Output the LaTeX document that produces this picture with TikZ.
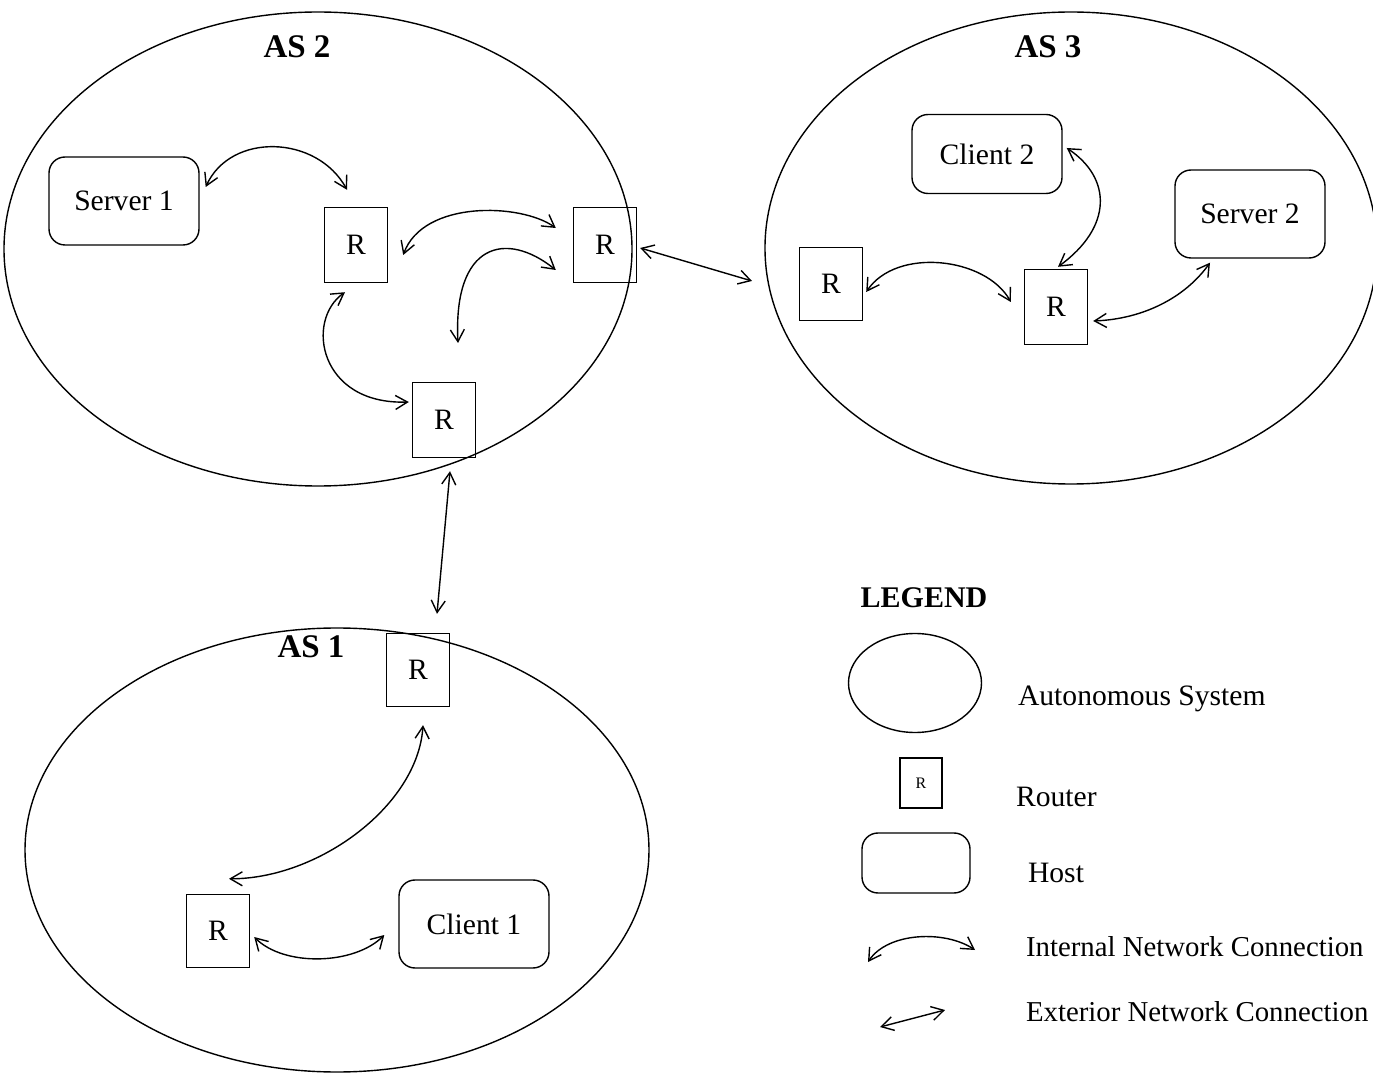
\documentclass[tikz,border=0pt]{standalone}
\usepackage{fontspec}
\setmainfont{Liberation Serif}
\usetikzlibrary{arrows.meta,shapes.geometric}
\begin{document}
\begin{tikzpicture}[x=0.5pt,y=-0.5pt,
  every node/.style={font=\fontsize{14.8}{17}\selectfont},
  router/.style={draw,line width=0.7pt,minimum width=31.5pt,minimum height=37.5pt,inner sep=0pt},
  host/.style={draw,line width=0.7pt,rounded corners=8pt,minimum width=75pt,minimum height=44pt,inner sep=0pt},
  asys/.style={draw,line width=0.7pt,ellipse,inner sep=0pt},
  aslabel/.style={font=\fontsize{16.5}{19}\selectfont\bfseries},
  legtext/.style={anchor=west,font=\fontsize{14.4}{17}\selectfont},
  tip/.tip={Straight Barb[length=6pt,width=7pt]},
  link/.style={line width=0.7pt,tip-tip},
]
\useasboundingbox (0,0) rectangle (1373,1075);

% autonomous systems
\node[asys,minimum width=314pt,minimum height=237pt] (as2) at (318,249) {};
\node[asys,minimum width=306pt,minimum height=236pt] (as3) at (1071,248) {};
\node[asys,minimum width=312pt,minimum height=222pt] (as1) at (337,850) {};
\node[aslabel] (as2l) at (297,47) {AS 2};
\node[aslabel] (as3l) at (1048,47) {AS 3};
\node[aslabel] (as1l) at (311,647) {AS 1};

% AS 2
\node[host] (srv1) at (124,201) {Server 1};
\node[router] (r1) at (356,245) {R};
\node[router] (r2) at (605,245) {R};
\node[router] (r3) at (444,420) {R};

% AS 3
\node[host,minimum height=39.5pt] (cl2) at (987,154) {Client 2};
\node[host] (srv2) at (1250,214) {Server 2};
\node[router,minimum height=36.5pt] (r4) at (831,284) {R};
\node[router] (r5) at (1056,307) {R};

% AS 1
\node[router,minimum height=36.5pt] (r6) at (418,670) {R};
\node[router,minimum height=36.5pt] (r7) at (218,931) {R};
\node[host] (cl1) at (474,924) {Client 1};

\coordinate (r2loop) at (458,343);
\coordinate (as3in) at (752,281);

% internal connections
\draw[link] ([shift={(6,-14)}]srv1.east) .. controls +(25,-55) and +(-30,-55) .. ([shift={(-9,-17)}]r1.north);
\draw[link] ([shift={(15,10)}]r1.east) .. controls +(20,-55) and +(-35,-25) .. ([shift={(-17,-17)}]r2.west);
\draw[link] (r2loop) .. controls +(-5,-100) and +(-50,-40) .. ([shift={(-17,25)}]r2.west);
\draw[link] ([shift={(-11,9)}]r1.south) .. controls +(-40,28) and +(-90,3) .. ([shift={(-3,-18)}]r3.west);
\draw[link] ([shift={(3,8)}]r4.east) .. controls +(30,-45) and +(-25,-45) .. ([shift={(-13,-5)}]r5.west);
\draw[link] ([shift={(4,-6)}]cl2.east) .. controls +(45,30) and +(55,-40) .. ([shift={(2,-2)}]r5.north);
\draw[link] ([shift={(5,14)}]r5.east) .. controls +(50,-2) and +(-25,35) .. ([shift={(-40,4)}]srv2.south);
\draw[link] ([shift={(5,18)}]r6.south) .. controls +(-5,80) and +(90,0) .. ([shift={(11,-15)}]r7.north);
\draw[link] ([shift={(4,6)}]r7.east) .. controls +(30,30) and +(-30,30) .. ([shift={(-14,11)}]cl1.west);

% exterior connections
\draw[link] ([shift={(3,3)}]r2.east) -- (as3in);
\draw[link] ([shift={(6,13)}]r3.south) -- ([shift={(19,-19)}]r6.north);

% legend
\node[font=\fontsize{15}{18}\selectfont\bfseries] (legt) at (924,598) {LEGEND};
\node[asys,minimum width=66.5pt,minimum height=49.5pt] (lgas) at (915,683) {};
\node[router,minimum width=21pt,minimum height=25pt,font=\fontsize{8}{9}\selectfont] (lgr) at (921,783) {R};
\node[host,minimum width=54pt,minimum height=30pt] (lgh) at (916,863) {};
\coordinate (lgi1) at (868,962);
\coordinate (lgi2) at (975,950);
\coordinate (lge1) at (880,1027);
\coordinate (lge2) at (945,1010);
\draw[link] (lgi1) .. controls +(20,-30) and +(-30,-20) .. (lgi2);
\draw[link] (lge1) -- (lge2);
\node[anchor=west] (lgast) at (1011,699) {Autonomous System};
\node[anchor=west] (lgrt) at (1009,797) {Router};
\node[anchor=west] (lght) at (1021,873) {Host};
\node[legtext] (lgit) at (1019,947) {Internal Network Connection};
\node[legtext] (lget) at (1019,1012) {Exterior Network Connection};
\end{tikzpicture}
\end{document}
